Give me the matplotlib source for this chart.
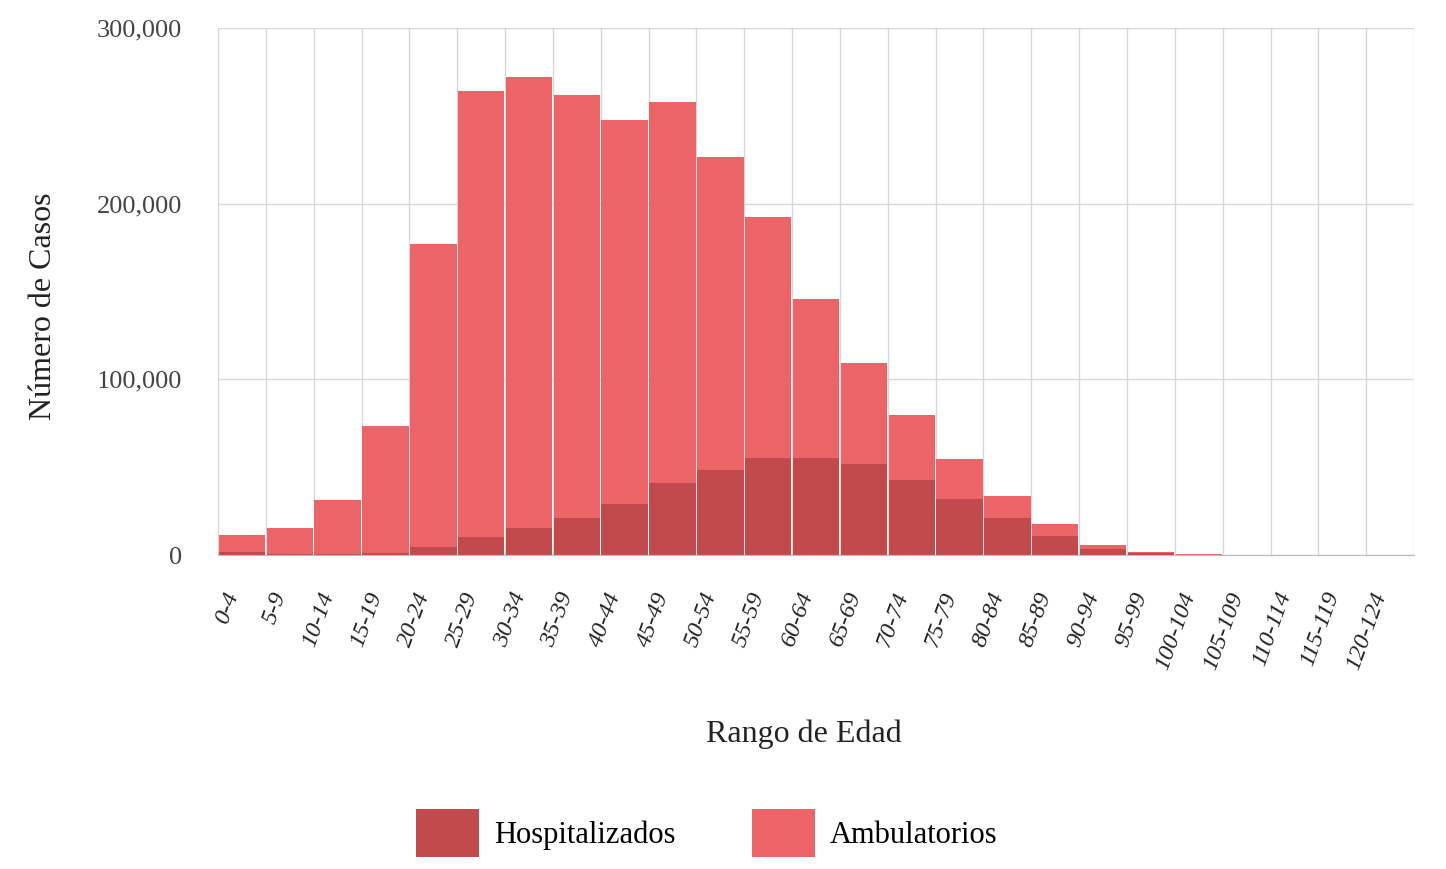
import matplotlib.pyplot as plt
import matplotlib.transforms as mtransforms
import numpy as np
from matplotlib.patches import FancyBboxPatch
from matplotlib.legend_handler import HandlerPatch

plt.rcParams['font.family'] = ['Liberation Serif', 'DejaVu Serif']

# age groups
rangos = ["0-4", "5-9", "10-14", "15-19", "20-24", "25-29", "30-34", "35-39",
          "40-44", "45-49", "50-54", "55-59", "60-64", "65-69", "70-74", "75-79",
          "80-84", "85-89", "90-94", "95-99", "100-104", "105-109", "110-114",
          "115-119", "120-124"]

# cases (approx)
hospitalizados = [1500, 700, 600, 1300, 4400, 10000, 15200, 21200, 28800, 40800,
                  48400, 55000, 55000, 51800, 42700, 31900, 21200, 10800, 3200,
                  900, 250, 50, 20, 10, 5]
totales = [11400, 15400, 31300, 73400, 177000, 264000, 272000, 262000, 247600,
           257800, 226500, 192400, 145700, 109300, 79700, 54600, 33500, 17500,
           5800, 1500, 500, 120, 40, 20, 10]
ambulatorios = [t - h for t, h in zip(totales, hospitalizados)]

c_hosp = "#c24a4d"
c_amb = "#eb6468"


def rounded_square(legend, orig_handle, xdescent, ydescent, width, height, fontsize):
    # rounded legend swatch like the original
    return FancyBboxPatch((-xdescent + 2, -ydescent + 2), width - 4, height - 4,
                          boxstyle="round,pad=0,rounding_size=5")


fig = plt.figure(figsize=(14.46, 8.69), dpi=100)
ax = fig.add_axes([0.1508, 0.3613, 0.8271, 0.6065])

x = np.arange(len(rangos))
ax.bar(x, hospitalizados, width=0.97, color=c_hosp, label="Hospitalizados", zorder=2)
ax.bar(x, ambulatorios, width=0.97, bottom=hospitalizados, color=c_amb,
       label="Ambulatorios", zorder=2)

ax.set_xlim(-0.5, len(rangos) - 0.5)
ax.set_ylim(0, 300000)
ax.set_yticks([0, 100000, 200000, 300000])
ax.set_yticklabels(["0", "100,000", "200,000", "300,000"], fontsize=19, color="#444444")

# x labels drawn as texts so they can sit a bit left/below the tick
ax.set_xticks(x)
ax.set_xticklabels([])
shift = mtransforms.ScaledTranslation(-0.19, -0.34, fig.dpi_scale_trans)
for i, r in enumerate(rangos):
    ax.text(i, 0, r, transform=ax.get_xaxis_transform() + shift, rotation=70,
            ha="right", va="top", rotation_mode="anchor", fontsize=17.5,
            style="italic", color="#222222")
ax.set_xticks(np.arange(-0.5, len(rangos)), minor=True)
ax.tick_params(axis="both", which="both", length=0)
ax.tick_params(axis="y", pad=26)

ax.grid(axis="y", color="#d8d8d8", linewidth=1, zorder=0)
ax.grid(axis="x", which="minor", color="#d8d8d8", linewidth=1, zorder=0)
ax.grid(axis="x", which="major", visible=False)
for s in ["top", "right"]:
    ax.spines[s].set_visible(False)
ax.spines["left"].set_color("#d8d8d8")
ax.spines["bottom"].set_color("#bbbbbb")

ax.set_ylabel("Número de Casos", fontsize=23, color="#222222")
ax.yaxis.set_label_coords(-0.134, 0.472)
ax.set_xlabel("Rango de Edad", fontsize=23, color="#222222")
ax.xaxis.set_label_coords(0.49, -0.313)

leg = fig.legend(loc="center", bbox_to_anchor=(0.489, 0.041), ncol=2, frameon=False,
                 fontsize=22, handlelength=2.05, handleheight=2.05, columnspacing=2.5,
                 handletextpad=0.5,
                 handler_map={plt.Rectangle: HandlerPatch(patch_func=rounded_square)})

fig.savefig("out.png", dpi=100)
